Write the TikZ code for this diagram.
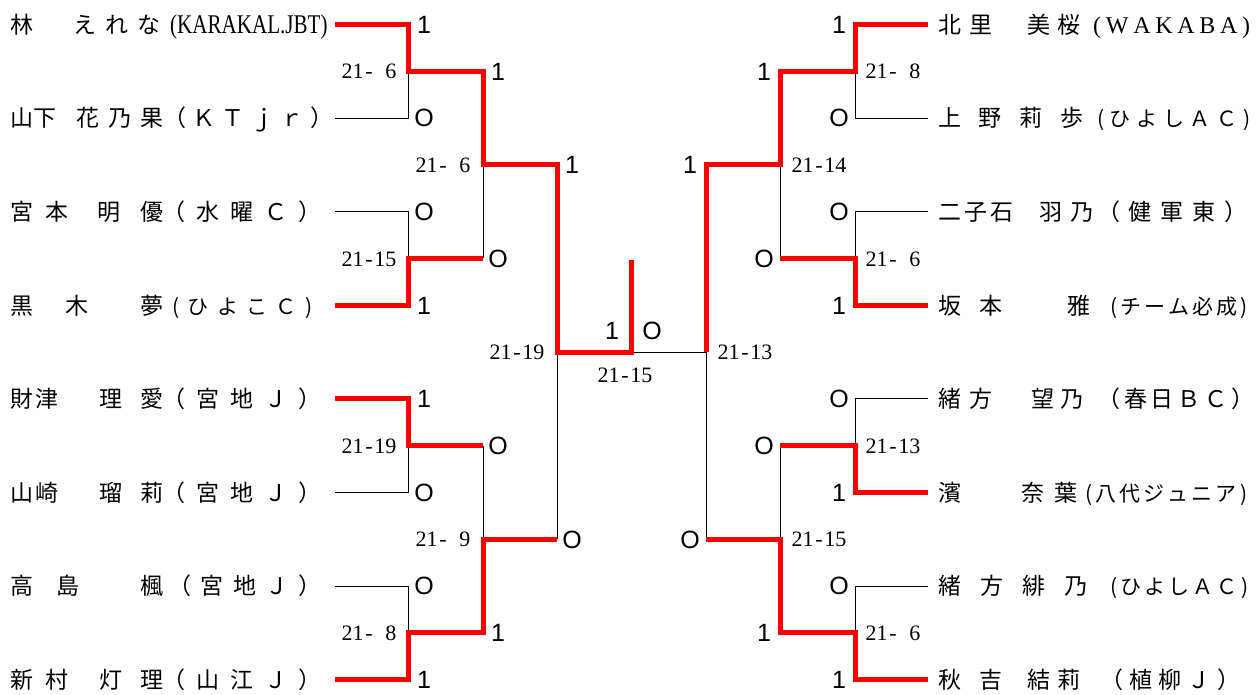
\documentclass[tikz,border=0pt]{standalone}
\usepackage{fontspec}
\newfontfamily\jpf{Noto Sans CJK JP}
\newfontfamily\numf{Liberation Sans}
\newfontfamily\serf{Liberation Serif}
\newcommand{\rsc}[2]{#1\makebox[0.5em]{-}#2}
\newcommand{\fw}{\hphantom{0}}
\newcommand{\spr}[2]{\makebox[#1pt][s]{#2}}
\begin{document}
\begin{tikzpicture}[x=1pt,y=-1pt,
  win/.style={draw=red,line width=5pt,line join=miter,line cap=butt},
  lose/.style={draw=black,line width=1pt},
  nm/.style={anchor=base west,inner sep=0pt,font=\jpf\fontsize{23}{23}\selectfont},
  tmlight/.style={nm,font=\jpf\fontsize{21}{21}\selectfont},
  scr/.style={anchor=base,inner sep=0pt,font=\numf\fontsize{25}{25}\selectfont},
  res/.style={anchor=base,inner sep=0pt,font=\serf\fontsize{22}{22}\selectfont},
]
\useasboundingbox (0,0) rectangle (1256,695);
% ---------- coordinates ----------
\foreach \i/\yy in {1/24.5,2/118.1,3/211.7,4/305.3,5/398.9,6/492.5,7/586.1,8/679.7}{
  \coordinate (a\i) at (335,\yy);
  \coordinate (A\i) at (928,\yy);
}
\foreach \i/\yy in {1/71.3,2/258.5,3/445.7,4/632.9}{
  \coordinate (b\i) at (408,\yy);
  \coordinate (c\i) at (483,\yy);
  \coordinate (B\i) at (855,\yy);
  \coordinate (C\i) at (780,\yy);
}
\foreach \i/\yy in {1/164.9,2/539.3}{
  \coordinate (d\i) at (483,\yy);
  \coordinate (e\i) at (557,\yy);
  \coordinate (D\i) at (780,\yy);
  \coordinate (E\i) at (706,\yy);
}
\coordinate (f) at (557,352.1);
\coordinate (g) at (631,352.1);
\coordinate (gt) at (631,260);
\coordinate (h) at (706,352.1);
% ---------- losing lines ----------
\draw[lose] (a2) -| (b1);
\draw[lose] (a3) -| (b2);
\draw[lose] (a6) -| (b3);
\draw[lose] (a7) -| (b4);
\draw[lose] (c2) -- (d1);
\draw[lose] (c3) -- (d2);
\draw[lose] (e2) -- (f);
\draw[lose] (g) -- (h);
\draw[lose] (A2) -| (B1);
\draw[lose] (A3) -| (B2);
\draw[lose] (A5) -| (B3);
\draw[lose] (A7) -| (B4);
\draw[lose] (C2) -- (D1);
\draw[lose] (C3) -- (D2);
\draw[lose] (E2) -- (h);
% ---------- winning lines ----------
\draw[win] (a1) -| (b1) -- (c1) -- (d1) -- (e1) -- (f) -- (g) -- (gt);
\draw[win] (a4) -| (b2) -- (c2);
\draw[win] (a5) -| (b3) -- (c3);
\draw[win] (a8) -| (b4) -- (c4) -- (d2) -- (e2);
\draw[win] (A1) -| (B1) -- (C1) -- (D1) -- (E1) -- (h);
\draw[win] (A4) -| (B2) -- (C2);
\draw[win] (A6) -| (B3) -- (C3);
\draw[win] (A8) -| (B4) -- (C4) -- (D2) -- (E2);
% ---------- left names ----------
\node[nm] (n1) at (10,33.2) {\spr{150}{林\hfill\hphantom{林}\hfill え\hfill れ\hfill な}};
\node[nm] (t1) at (170,33.2) {\scalebox{0.78}[1]{\serf\fontsize{27}{27}\selectfont (KARAKAL.JBT)}};
\node[nm] (n2) at (10,126.8) {\spr{153}{山下\hspace{20pt}花\hfill 乃\hfill 果}};
\node[nm] (t2) at (163,126.8) {\spr{170}{（\hfill Ｋ\hfill Ｔ\hfill ｊ\hfill ｒ\hfill ）}};
\node[nm] (n3) at (10,220.4) {\spr{153}{宮\hspace{12pt}本\hfill 明\hspace{20pt}優}};
\node[nm] (t3) at (162,220.4) {\spr{159}{（\hfill 水\hfill 曜\hfill Ｃ\hfill ）}};
\node[nm] (n4) at (10,314.0) {\spr{153}{黒\hspace{32pt}木\hfill 夢}};
\node[tmlight] (t4) at (172,314.0) {\spr{140}{(\hfill ひ\hfill よ\hfill こ\hfill Ｃ\hfill )}};
\node[nm] (n5) at (10,407.6) {\spr{153}{財\hspace{2pt}津\hfill 理\hspace{18pt}愛}};
\node[nm] (t5) at (162,407.6) {\spr{159}{（\hfill 宮\hfill 地\hfill Ｊ\hfill ）}};
\node[nm] (n6) at (10,501.2) {\spr{153}{山\hspace{2pt}崎\hfill 瑠\hspace{18pt}莉}};
\node[nm] (t6) at (162,501.2) {\spr{159}{（\hfill 宮\hfill 地\hfill Ｊ\hfill ）}};
\node[nm] (n7) at (10,594.8) {\spr{153}{高\hspace{23pt}島\hfill 楓}};
\node[nm] (t7) at (168,594.8) {\spr{153}{（\hfill 宮\hfill 地\hfill Ｊ\hfill ）}};
\node[nm] (n8) at (10,688.4) {\spr{153}{新\hspace{12pt}村\hfill 灯\hspace{18pt}理}};
\node[nm] (t8) at (162,688.4) {\spr{159}{（\hfill 山\hfill 江\hfill Ｊ\hfill ）}};
% ---------- right names ----------
\node[nm] (N1) at (938,33.2) {\spr{142}{北\hspace{8pt}里\hfill 美\hspace{7pt}桜}};
\node[nm] (T1) at (1093,33.2) {\serf\fontsize{24}{24}\selectfont\spr{157}{(\hfill W\hfill A\hfill K\hfill A\hfill B\hfill A\hfill )}};
\node[nm] (N2) at (938,126.8) {\spr{145}{上\hfill 野\hfill 莉\hfill 歩}};
\node[tmlight] (T2) at (1097,126.8) {\spr{153}{(\hfill ひ\hfill よ\hfill し\hfill Ａ\hfill Ｃ\hfill )}};
\node[nm] (N3) at (938,220.4) {\spr{155}{二\hspace{3pt}子\hspace{3pt}石\hfill 羽\hspace{8pt}乃}};
\node[nm] (T3) at (1097,220.4) {\spr{150}{（\hfill 健\hfill 軍\hfill 東\hfill ）}};
\node[nm] (N4) at (938,314.0) {\spr{152}{坂\hspace{18pt}本\hfill 雅}};
\node[tmlight] (T4) at (1110,314.0) {\spr{137}{(\hfill チ\hfill ー\hfill ム\hfill 必\hfill 成\hfill )}};
\node[nm] (N5) at (938,407.6) {\spr{145}{緒\hspace{8pt}方\hfill 望\hspace{6pt}乃}};
\node[nm] (T5) at (1097,407.6) {\spr{157}{（\hfill 春\hfill 日\hfill Ｂ\hfill Ｃ\hfill ）}};
\node[nm] (N6) at (938,501.2) {\spr{139}{濱\hfill 奈\hspace{10pt}葉}};
\node[tmlight] (T6) at (1085,501.2) {\spr{162}{(\hfill 八\hfill 代\hfill ジ\hfill ュ\hfill ニ\hfill ア\hfill )}};
\node[nm] (N7) at (938,594.8) {\spr{149}{緒\hfill 方\hfill 緋\hfill 乃}};
\node[tmlight] (T7) at (1110,594.8) {\spr{138}{(\hfill ひ\hfill よ\hfill し\hfill Ａ\hfill Ｃ\hfill )}};
\node[nm] (N8) at (938,688.4) {\spr{142}{秋\hspace{18pt}吉\hfill 結\hspace{7pt}莉}};
\node[nm] (T8) at (1100,688.4) {\spr{140}{（\hfill 植\hfill 柳\hfill Ｊ\hfill ）}};
% ---------- game scores ----------
\foreach \i/\yy/\s in {1/24.5/1,2/118.1/O,3/211.7/O,4/305.3/1,5/398.9/1,6/492.5/O,7/586.1/O,8/679.7/1}{
  \node[scr] (sl\i) at (424,\yy+8.8) {\s};
}
\foreach \i/\yy/\s in {1/24.5/1,2/118.1/O,3/211.7/O,4/305.3/1,5/398.9/O,6/492.5/1,7/586.1/O,8/679.7/1}{
  \node[scr] (sr\i) at (839,\yy+8.8) {\s};
}
\foreach \i/\yy/\s/\t in {1/71.3/1/1,2/258.5/O/O,3/445.7/O/O,4/632.9/1/1}{
  \node[scr] (ql\i) at (498,\yy+8.8) {\s};
  \node[scr] (qr\i) at (764,\yy+8.8) {\t};
}
\node[scr] (ul1) at (572,173.7) {1};
\node[scr] (ul2) at (572,548.1) {O};
\node[scr] (ur1) at (690,173.7) {1};
\node[scr] (ur2) at (690,548.1) {O};
\node[scr] (fl) at (612,339.8) {1};
\node[scr] (fr) at (652,339.8) {O};
% ---------- match results ----------
\node[res] (rl1) at (369,78.8) {\rsc{21}{\fw6}};
\node[res] (rl2) at (369,266.0) {\rsc{21}{15}};
\node[res] (rl3) at (369,453.2) {\rsc{21}{19}};
\node[res] (rl4) at (369,640.4) {\rsc{21}{\fw8}};
\node[res] (ml1) at (443,172.4) {\rsc{21}{\fw6}};
\node[res] (ml2) at (443,546.8) {\rsc{21}{\fw9}};
\node[res] (sfl) at (517,359.6) {\rsc{21}{19}};
\node[res] (fin) at (625,382.5) {\rsc{21}{15}};
\node[res] (sfr) at (745,359.6) {\rsc{21}{13}};
\node[res] (mr1) at (819,172.4) {\rsc{21}{14}};
\node[res] (mr2) at (819,546.8) {\rsc{21}{15}};
\node[res] (rr1) at (893,78.8) {\rsc{21}{\fw8}};
\node[res] (rr2) at (893,266.0) {\rsc{21}{\fw6}};
\node[res] (rr3) at (893,453.2) {\rsc{21}{13}};
\node[res] (rr4) at (893,640.4) {\rsc{21}{\fw6}};
\end{tikzpicture}
\end{document}
